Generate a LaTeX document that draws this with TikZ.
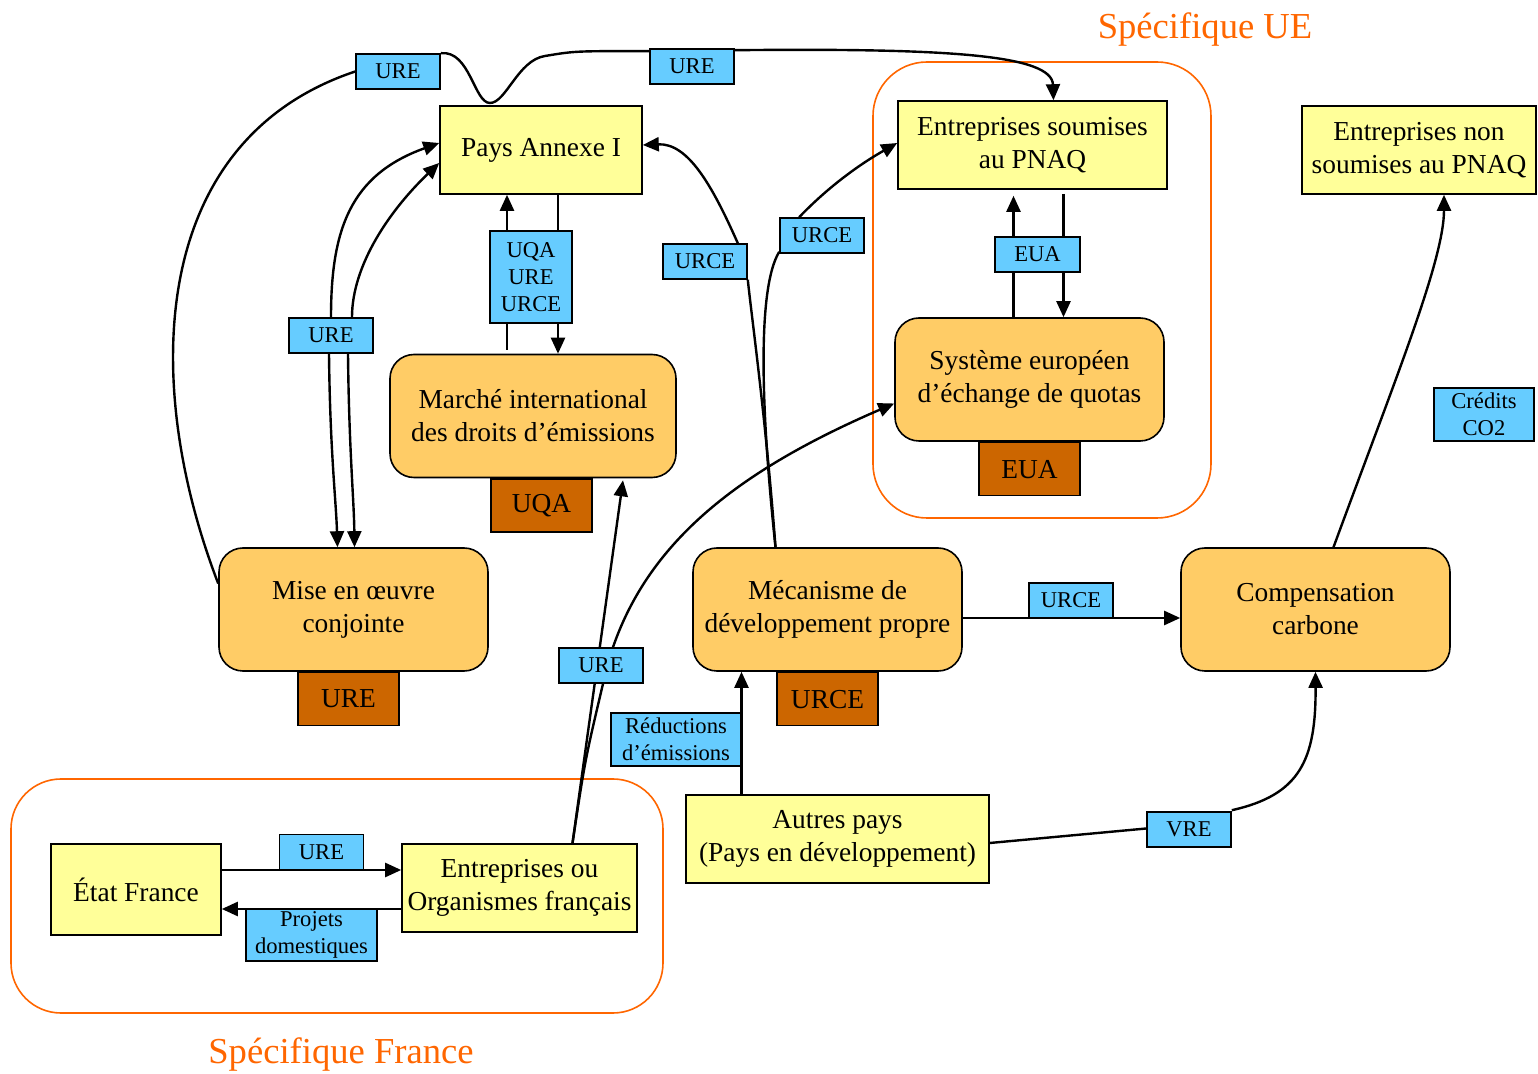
\documentclass[tikz,border=0pt]{standalone}
\usepackage{fontspec}
\setmainfont{Liberation Serif}
\usepackage{tikz}
\usetikzlibrary{arrows.meta,positioning,calc,backgrounds}
\definecolor{PaleYellow}{HTML}{FFFF99}
\definecolor{SoftOrange}{HTML}{FFCC66}
\definecolor{BurntOrange}{HTML}{CC6600}
\definecolor{SkyBlue}{HTML}{66CCFF}
\definecolor{FrameOrange}{HTML}{FF6600}
\tikzset{
  mainfont/.style={font=\fontsize{13.7pt}{16.5pt}\selectfont},
  nY/.style={rectangle,draw,line width=0.8pt,fill=PaleYellow,
             align=center,inner sep=1pt,minimum height=44pt,mainfont},
  nO/.style={rectangle,rounded corners=12pt,draw,line width=0.8pt,
             fill=SoftOrange,align=center,inner sep=1pt,
             minimum width=134.5pt,minimum height=61.5pt,mainfont},
  tag/.style={rectangle,draw,line width=0.8pt,fill=BurntOrange,
              minimum width=50.5pt,minimum height=26.5pt,mainfont},
  lbl/.style={rectangle,draw,line width=0.8pt,fill=SkyBlue,align=center,
              inner sep=1pt,minimum width=42pt,minimum height=17.5pt,
              font=\fontsize{11.3pt}{13.6pt}\selectfont},
  wire/.style={line width=1.2pt},
  arr/.style={wire,-{Triangle[length=8pt,width=7pt]}}
}

\begin{document}
\begin{tikzpicture}[
  x=0.5pt,y=-0.5pt,
  node distance=0pt,
  zone/.style={rectangle,rounded corners=27pt,draw=FrameOrange,line width=0.8pt},
  ztitle/.style={text=FrameOrange,font=\fontsize{18.3pt}{22pt}\selectfont}
]
  \useasboundingbox (0,0) rectangle (1538,1074);

  \begin{scope}[on background layer]
    \node[zone,minimum width=169pt,minimum height=228pt] (zUE) at (1042,290) {};
    \node[zone,minimum width=326pt,minimum height=117pt,rounded corners=25pt] (zFR) at (337,896) {};
  \end{scope}
  \node[ztitle] (tUE) at (1205,30) {Spécifique UE};
  \node[ztitle] (tFR) at (341,1055) {Spécifique France};

  \node[nY,minimum width=101pt] (pays) at (541,150) {Pays Annexe I};
  \node[nY,minimum width=134.5pt] (entS) at (1032.5,145) {Entreprises soumises\\au PNAQ};
  \node[nY,minimum width=117pt] (entN) at (1419,150) {Entreprises non\\soumises au PNAQ};
  \node[nY,minimum width=85pt,minimum height=45.5pt] (etat) at (136,889.5) {État France};
  \node[nY,minimum width=117.5pt] (entO) at (519.5,888) {Entreprises ou\\Organismes français};
  \node[nY,minimum width=151.5pt] (autres) at (837.5,839) {Autres pays\\(Pays en développement)};
  \node[nO,minimum width=143pt] (marche) at (533,416) {Marché international\\des droits d’émissions};
  \node[nO] (syst) at (1029.5,379.5) {Système européen\\d’échange de quotas};
  \node[nO] (mise) at (353.5,609.5) {Mise en œuvre\\conjointe};
  \node[nO] (mdp) at (827.5,609.5) {Mécanisme de\\développement propre};
  \node[nO] (compens) at (1315.5,609.5) {Compensation\\carbone};

  \node[tag,below=of marche,xshift=4.25pt] (qUQA) {UQA};
  \node[tag,below=of syst] (qEUA) {EUA};
  \node[tag,below=of mise,xshift=-2.5pt] (qURE) {URE};
  \node[tag,below=of mdp] (qURCE) {URCE};

  \node[lbl] (lUREa) at (398,71.5) {URE};
  \node[lbl] (lUREb) at (692,66.5) {URE};
  \node[lbl,minimum width=41pt,minimum height=46pt] (lTrio) at (531,277) {UQA\\URE\\URCE};
  \node[lbl] (lUREc) at (331,335.5) {URE};
  \node[lbl] (lURCEa) at (705,261.5) {URCE};
  \node[lbl] (lURCEb) at (822,235.5) {URCE};
  \node[lbl,minimum width=42.5pt] (lEUA) at (1037.5,254.5) {EUA};
  \node[lbl] (lUREd) at (601,665.5) {URE};
  \node[lbl,minimum width=65pt,minimum height=26.5pt] (lRed) at (676,739.5) {Réductions\\d’émissions};
  \node[lbl] (lUREe) at (321.5,852) {URE};
  \node[lbl,minimum width=65.5pt,minimum height=26pt] (lProj) at (311.5,935) {Projets\\domestiques};
  \node[lbl] (lURCEc) at (1071,600.5) {URCE};
  \node[lbl] (lVRE) at (1189,829.5) {VRE};
  \node[lbl,minimum width=50pt,minimum height=26.5pt] (lCO2) at (1484,414.5) {Crédits\\CO2};

  \begin{scope}[on background layer]
    \draw[wire] ($(mise.west)+(0,-26)$) .. controls (140,380) and (150,140) .. (lUREa.west);
    \draw[wire] (lUREa.north east) .. controls (470,50) and (474,103) .. (490,103)
      .. controls (506,103) and (518,60) .. (545,56)
      .. controls (575,51) .. ($(lUREb.north west)+(0,3)$);
    \draw[arr] ($(lUREb.north east)+(0,2)$) .. controls (950,48) and (1052,55) .. ($(entS.north)+(21,0)$);

    \draw[arr] (lUREc.north) .. controls (331,230) and (350,175) .. ($(pays.west)+(0,-7)$);
    \draw[arr] ($(lUREc.north)+(21,0)$) .. controls (352,265) and (390,210) .. ($(pays.west)+(0,13)$);
    \draw[arr] ($(lUREc.south)+(-2,0)$) .. controls (330,450) and (336,500) .. ($(mise.north)+(-16,0)$);
    \draw[arr] ($(lUREc.south)+(17,0)$) .. controls (349,450) and (354,500) .. ($(mise.north)+(1,0)$);

    \draw[arr] ($(marche.north)+(-26,-4)$) -- ($(pays.south)+(-34,0)$);
    \draw[arr] ($(pays.south)+(17,0)$) -- ($(marche.north)+(25,0)$);

    \draw[wire] ($(mdp.north)+(-52,0)$) .. controls (766,420) and (752,320) .. (lURCEa.south east);
    \draw[arr] ($(lURCEa.north east)+(-10,0)$) .. controls (712,185) and (688,143) .. ($(pays.east)+(0,-5)$);
    \draw[wire] ($(mdp.north)+(-52,0)$) .. controls (762,420) and (756,290) .. ($(lURCEb.south west)+(0,-2)$);
    \draw[arr] ($(lURCEb.north west)+(20,0)$) .. controls (830,185) and (862,163) .. ($(entS.west)+(0,-2)$);

    \draw[arr] ($(syst.north)+(-16,0)$) -- ($(entS.south)+(-19,6)$);
    \draw[arr] ($(entS.south)+(31,4)$) -- ($(syst.north)+(34,0)$);

    \draw[arr] ($(entO.north)+(53,0)$) -- ($(marche.south)+(90,2)$);
    \draw[wire] ($(entO.north)+(53,0)$) .. controls (585,760) .. ($(lUREd.south)+(2,0)$);
    \draw[arr] ($(lUREd.north)+(12,0)$) .. controls (650,540) and (740,470) .. ($(syst.west)+(0,24)$);

    \draw[arr] ($(autres.north)+(-96,0)$) -- ($(mdp.south)+(-86,0)$);
    \draw[wire] ($(autres.east)+(0,4)$) -- ($(lVRE.west)+(0,-1)$);
    \draw[arr] ($(lVRE.north east)+(0,-1)$) .. controls (1300,795) and (1316,760) .. (compens.south);
    \draw[arr] ($(mdp.east)+(0,8.5)$) -- ($(compens.west)+(0,8.5)$);
    \draw[arr] ($(compens.north)+(18,0)$) .. controls (1395,380) and (1444,260) .. ($(entN.south)+(25,0)$);

    \draw[arr] ($(etat.east)+(0,-19.5)$) -- ($(entO.west)+(0,-18)$);
    \draw[arr] ($(entO.west)+(0,21)$) -- ($(etat.east)+(0,19.5)$);
  \end{scope}
\end{tikzpicture}
\end{document}
